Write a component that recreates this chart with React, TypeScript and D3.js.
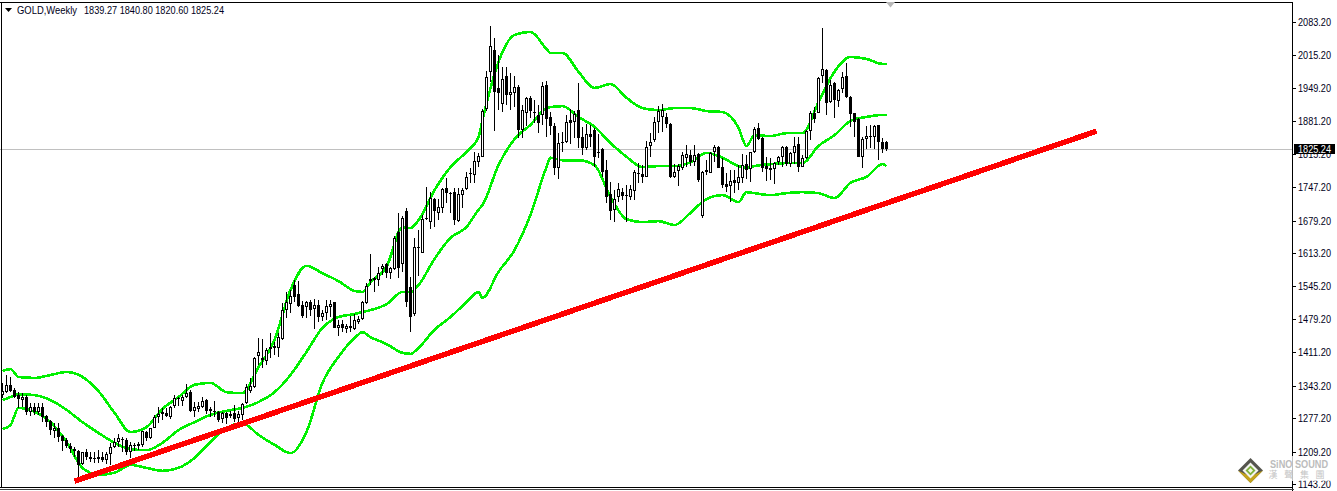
import * as d3 from "d3";

const symbol = "GOLD,Weekly";
const lastBar = "1839.27 1840.80 1820.60 1825.24";
const lastClose = 1825.24;

const priceTicks = [2083.2, 2015.2, 1949.2, 1881.2, 1815.2, 1747.2, 1679.2, 1613.2, 1545.2, 1479.2, 1411.2, 1343.2, 1277.2, 1209.2, 1143.2];

// weekly bars, one entry per week
const opens = [
  1324, 1330, 1345, 1334, 1324, 1314, 1320, 1290, 1300, 1290,
  1300, 1282, 1271, 1251, 1257, 1241, 1233, 1221, 1214, 1210,
  1184, 1208, 1198, 1196, 1194, 1198, 1192, 1204, 1218, 1229,
  1235, 1233, 1208, 1223, 1225, 1223, 1249, 1237, 1257, 1280,
  1290, 1288, 1280, 1302, 1318, 1312, 1320, 1330, 1292, 1296,
  1300, 1314, 1296, 1292, 1290, 1275, 1288, 1286, 1288, 1278,
  1284, 1308, 1332, 1340, 1404, 1400, 1394, 1418, 1424, 1420,
  1438, 1497, 1509, 1548, 1530, 1507, 1503, 1513, 1499, 1507,
  1483, 1491, 1503, 1513, 1461, 1469, 1459, 1465, 1459, 1473,
  1479, 1511, 1560, 1562, 1558, 1581, 1591, 1572, 1581, 1656,
  1591, 1699, 1544, 1489, 1625, 1613, 1684, 1676, 1723, 1695,
  1705, 1745, 1735, 1737, 1678, 1731, 1743, 1776, 1772, 1798,
  1809, 1906, 1982, 2026, 1949, 1916, 1973, 1935, 1939, 1951,
  1863, 1898, 1929, 1900, 1894, 1894, 1955, 1890, 1872, 1786,
  1839, 1839, 1884, 1880, 1904, 1849, 1827, 1855, 1863, 1819,
  1825, 1782, 1733, 1701, 1727, 1737, 1731, 1727, 1739, 1776,
  1774, 1768, 1831, 1843, 1880, 1890, 1890, 1876, 1768, 1780,
  1786, 1807, 1813, 1798, 1815, 1688, 1782, 1776, 1819, 1829,
  1788, 1754, 1750, 1762, 1756, 1766, 1794, 1784, 1819, 1868,
  1847, 1790, 1786, 1784, 1798, 1809, 1829, 1794, 1817, 1835,
  1788, 1807, 1861, 1898, 1898, 1973, 1986, 1920, 1959, 1922,
  1947, 1973, 1931, 1898, 1886, 1809, 1845, 1851, 1849, 1874,
  1839, 1839.27,
];
const highs = [
  1349, 1365, 1361, 1339, 1330, 1328, 1324, 1308, 1308, 1308,
  1308, 1284, 1273, 1267, 1267, 1243, 1237, 1227, 1218, 1212,
  1208, 1214, 1208, 1208, 1212, 1208, 1208, 1227, 1237, 1245,
  1239, 1237, 1229, 1227, 1229, 1251, 1251, 1257, 1284, 1300,
  1298, 1298, 1302, 1324, 1320, 1324, 1347, 1334, 1310, 1310,
  1320, 1316, 1300, 1312, 1292, 1290, 1290, 1292, 1304, 1292,
  1308, 1347, 1359, 1402, 1440, 1438, 1420, 1450, 1432, 1450,
  1511, 1534, 1538, 1558, 1556, 1516, 1516, 1518, 1520, 1518,
  1497, 1518, 1518, 1513, 1477, 1477, 1469, 1485, 1489, 1485,
  1516, 1552, 1611, 1564, 1585, 1591, 1593, 1585, 1648, 1695,
  1688, 1705, 1564, 1644, 1660, 1691, 1748, 1737, 1725, 1723,
  1745, 1766, 1737, 1745, 1745, 1745, 1778, 1786, 1819, 1817,
  1906, 1984, 2075, 2051, 2016, 1992, 1992, 1979, 1973, 1955,
  1914, 1931, 1933, 1924, 1914, 1961, 1963, 1900, 1878, 1857,
  1859, 1894, 1906, 1902, 1959, 1870, 1876, 1874, 1868, 1855,
  1827, 1802, 1758, 1741, 1756, 1745, 1752, 1752, 1782, 1796,
  1792, 1841, 1857, 1890, 1912, 1916, 1898, 1878, 1794, 1794,
  1819, 1833, 1823, 1833, 1817, 1780, 1802, 1819, 1833, 1831,
  1807, 1776, 1782, 1782, 1792, 1815, 1813, 1819, 1870, 1878,
  1849, 1809, 1807, 1798, 1811, 1831, 1831, 1819, 1849, 1849,
  1813, 1863, 1902, 1910, 1971, 2071, 1988, 1965, 1961, 1947,
  1982, 2000, 1933, 1898, 1888, 1849, 1872, 1874, 1874, 1874,
  1847, 1840.8,
];
const lows = [
  1318, 1328, 1330, 1318, 1298, 1300, 1284, 1282, 1284, 1284,
  1269, 1259, 1243, 1237, 1229, 1210, 1216, 1206, 1198, 1157,
  1182, 1192, 1188, 1186, 1186, 1188, 1184, 1182, 1216, 1218,
  1208, 1202, 1196, 1210, 1212, 1218, 1231, 1235, 1257, 1267,
  1273, 1280, 1275, 1298, 1302, 1302, 1318, 1290, 1280, 1290,
  1298, 1286, 1280, 1280, 1269, 1267, 1265, 1278, 1269, 1269,
  1273, 1306, 1328, 1338, 1385, 1379, 1385, 1400, 1406, 1402,
  1436, 1481, 1491, 1513, 1503, 1481, 1481, 1485, 1459, 1473,
  1475, 1477, 1483, 1461, 1444, 1452, 1450, 1452, 1457, 1469,
  1477, 1509, 1548, 1534, 1546, 1568, 1562, 1560, 1579, 1562,
  1575, 1503, 1452, 1485, 1566, 1613, 1680, 1662, 1666, 1680,
  1695, 1715, 1695, 1670, 1676, 1705, 1741, 1756, 1756, 1788,
  1809, 1902, 1961, 1861, 1904, 1900, 1914, 1904, 1910, 1847,
  1847, 1872, 1888, 1878, 1857, 1874, 1849, 1853, 1772, 1764,
  1819, 1837, 1835, 1847, 1827, 1813, 1823, 1829, 1788, 1807,
  1768, 1715, 1680, 1676, 1717, 1721, 1676, 1721, 1721, 1756,
  1756, 1768, 1809, 1839, 1857, 1859, 1868, 1766, 1766, 1750,
  1782, 1788, 1790, 1790, 1758, 1684, 1772, 1776, 1798, 1786,
  1745, 1737, 1717, 1735, 1741, 1756, 1764, 1758, 1817, 1843,
  1778, 1760, 1762, 1754, 1792, 1788, 1790, 1788, 1794, 1778,
  1788, 1805, 1843, 1878, 1898, 1959, 1894, 1918, 1888, 1910,
  1939, 1929, 1870, 1849, 1809, 1786, 1825, 1827, 1825, 1802,
  1817, 1820.6,
];
const closes = [
  1332, 1345, 1332, 1320, 1316, 1320, 1290, 1300, 1290, 1300,
  1280, 1269, 1253, 1257, 1239, 1231, 1221, 1214, 1210, 1182,
  1208, 1198, 1194, 1194, 1198, 1192, 1204, 1218, 1229, 1237,
  1233, 1208, 1223, 1221, 1221, 1251, 1237, 1257, 1280, 1286,
  1286, 1282, 1300, 1318, 1316, 1320, 1328, 1292, 1300, 1302,
  1312, 1292, 1292, 1290, 1273, 1288, 1278, 1282, 1275, 1286,
  1306, 1340, 1342, 1400, 1412, 1396, 1416, 1422, 1420, 1442,
  1497, 1513, 1526, 1524, 1505, 1485, 1513, 1497, 1507, 1483,
  1491, 1505, 1509, 1461, 1467, 1461, 1465, 1461, 1477, 1479,
  1513, 1546, 1556, 1558, 1572, 1587, 1572, 1583, 1644, 1583,
  1684, 1513, 1483, 1625, 1623, 1682, 1682, 1725, 1699, 1707,
  1743, 1735, 1733, 1680, 1733, 1741, 1768, 1774, 1800, 1811,
  1902, 1971, 2034, 1941, 1939, 1967, 1935, 1941, 1951, 1863,
  1904, 1929, 1902, 1898, 1878, 1953, 1886, 1872, 1786, 1837,
  1837, 1880, 1878, 1896, 1847, 1827, 1855, 1849, 1809, 1817,
  1778, 1727, 1699, 1723, 1743, 1729, 1729, 1743, 1778, 1774,
  1768, 1829, 1839, 1880, 1902, 1904, 1876, 1768, 1778, 1790,
  1813, 1815, 1798, 1813, 1762, 1778, 1778, 1817, 1829, 1786,
  1752, 1748, 1760, 1756, 1768, 1792, 1782, 1819, 1865, 1845,
  1786, 1784, 1782, 1796, 1809, 1829, 1794, 1817, 1831, 1788,
  1807, 1861, 1898, 1886, 1969, 1988, 1918, 1955, 1924, 1945,
  1971, 1931, 1896, 1880, 1809, 1845, 1851, 1849, 1872, 1839,
  1825, 1825.24,
];

// band readings, taken every few weeks
const bandWeeks = [
  0, 2, 4, 8, 12, 16, 20, 24, 28, 32, 36, 40, 44, 48, 52, 56, 60, 64, 68, 72, 76, 80, 84, 88, 90, 92, 96, 100, 102, 104,
  108, 112, 116, 119, 120, 124, 128, 132, 136, 137, 140, 144, 148, 152, 156, 160, 164, 168, 172, 176, 180, 184, 186, 188,
  192, 196, 200, 204, 208, 212, 216, 220, 221,
];
const upperBand = [
  1373, 1377, 1361, 1359, 1365, 1371, 1361, 1332, 1288, 1249, 1259, 1296, 1320, 1345, 1349, 1330, 1328, 1381, 1436, 1538,
  1587, 1572, 1556, 1536, 1534, 1554, 1585, 1666, 1664, 1680, 1741, 1788, 1819, 1849, 1884, 2002, 2057, 2063, 2028, 2020,
  2020, 1982, 1949, 1957, 1929, 1908, 1904, 1908, 1908, 1902, 1900, 1868, 1831, 1853, 1851, 1857, 1857, 1920, 1982, 2012,
  2008, 1998, 1998,
];
const middleBand = [
  1314, 1320, 1326, 1324, 1314, 1294, 1269, 1247, 1227, 1214, 1212, 1227, 1253, 1269, 1284, 1292, 1298, 1310, 1330, 1365,
  1412, 1461, 1483, 1489, 1493, 1497, 1509, 1534, 1534, 1548, 1601, 1644, 1666, 1701, 1711, 1792, 1845, 1874, 1908, 1910,
  1912, 1890, 1870, 1837, 1809, 1788, 1790, 1790, 1798, 1817, 1807, 1790, 1786, 1790, 1794, 1796, 1796, 1831, 1853, 1882,
  1890, 1894, 1894,
];
const lowerBand = [
  1255, 1263, 1298, 1290, 1269, 1229, 1176, 1162, 1166, 1182, 1176, 1170, 1176, 1196, 1229, 1257, 1267, 1243, 1223, 1206,
  1249, 1349, 1402, 1440, 1452, 1442, 1428, 1410, 1408, 1420, 1457, 1483, 1513, 1534, 1522, 1575, 1619, 1691, 1788, 1807,
  1802, 1802, 1792, 1727, 1682, 1676, 1678, 1670, 1695, 1723, 1731, 1717, 1737, 1735, 1731, 1735, 1737, 1735, 1725, 1756,
  1768, 1794, 1790,
];

const trendWeeks = [18, 273.5];
const trendPrices = [1149, 1861];

const x = d3.scaleLinear().domain([0, 221]).range([2.5, 886.5]);
const y = d3.scaleLinear().domain([1143.2, 2083.2]).range([484, 22]);

const font = "'Liberation Sans', Arial, sans-serif";
const textColor = "#000020";

function bandPath(values: number[]) {
  const line = d3
    .line<number>()
    .x((_, i) => x(bandWeeks[i]))
    .y((d) => y(d))
    .curve(d3.curveMonotoneX);
  return line(values) ?? "";
}

function Candle({ week }: { week: number }) {
  const o = opens[week];
  const c = closes[week];
  const cx = x(week);
  const top = Math.round(y(Math.max(o, c)));
  const bottom = Math.max(Math.round(y(Math.min(o, c))), top + 1);
  const wickTop = Math.round(y(highs[week]));
  const wickBottom = Math.round(y(lows[week]));
  return (
    <g>
      <rect x={cx - 0.5} y={wickTop} width={1} height={Math.max(wickBottom - wickTop, 1)} fill="#000" />
      <rect x={cx - 1.5} y={top} width={3} height={bottom - top} fill="#000" />
      {c > o && bottom - top > 2 && <rect x={cx - 0.5} y={top + 1} width={1} height={bottom - top - 2} fill="#fff" />}
    </g>
  );
}

function Logo() {
  const cx = 1250.5;
  const cy = 470.5;
  const diamond = (r: number) => `${cx},${cy - r} ${cx + r},${cy} ${cx},${cy + r} ${cx - r},${cy}`;
  return (
    <g>
      <rect x={1268} y={456} width={62} height={25} fill="#fff" opacity={0.75} />
      <polygon points={diamond(12.5)} fill="#55554e" />
      <polygon points={`${cx - 12.5},${cy} ${cx},${cy + 12.5} ${cx + 12.5},${cy} ${cx},${cy + 6}`} fill="#c4a41c" />
      <polygon points={diamond(8)} fill="#f4f4f0" />
      <polygon points={diamond(5)} fill="#7fb23a" />
      <polygon points={diamond(2.5)} fill="#f2f6e6" />
      <text
        x={1270}
        y={468}
        fontFamily={font}
        fontSize={11.5}
        fontWeight={700}
        fill="#bcbcbc"
        textLength={58}
        lengthAdjust="spacingAndGlyphs"
      >
        SiNO SOUND
      </text>
      {["漢", "聲", "集", "團"].map((ch, i) => (
        <text
          key={ch}
          x={1273 + i * 15.7}
          y={478}
          textAnchor="middle"
          fontFamily="'Noto Sans CJK TC', sans-serif"
          fontSize={9}
          fill="#c4c4c4"
        >
          {ch}
        </text>
      ))}
    </g>
  );
}

export default function App() {
  const axisX = 1292.5;
  const closeY = Math.round(y(lastClose)) + 0.5;
  const trend = d3
    .line<number>()
    .x((_, i) => x(trendWeeks[i]))
    .y((d) => y(d));

  return (
    <svg
      width={1337}
      height={491}
      viewBox="0 0 1337 491"
      style={{ position: "absolute", left: 0, top: 0, display: "block", background: "#fff" }}
    >
      <line x1={0} x2={axisX} y1={closeY} y2={closeY} stroke="#c0c0c0" shapeRendering="crispEdges" />

      {[upperBand, middleBand, lowerBand].map((band, i) => (
        <path key={i} d={bandPath(band)} fill="none" stroke="#00f000" strokeWidth={2.6} shapeRendering="crispEdges" />
      ))}

      <g shapeRendering="crispEdges">
        {opens.map((_, week) => (
          <Candle key={week} week={week} />
        ))}
      </g>

      <path d={trend(trendPrices) ?? ""} fill="none" stroke="#ff0000" strokeWidth={5.5} shapeRendering="crispEdges" />

      {/* frame */}
      <g stroke="#000" shapeRendering="crispEdges">
        <line x1={0} x2={axisX} y1={2.5} y2={2.5} />
        <line x1={1.5} x2={1.5} y1={2} y2={487} />
        <line x1={axisX} x2={axisX} y1={2} y2={491} />
        <line x1={0} x2={axisX} y1={487.5} y2={487.5} />
        <line x1={0} x2={axisX + 1} y1={489.5} y2={489.5} stroke="#444" />
      </g>

      {/* price axis */}
      {priceTicks.map((t) => (
        <g key={t} transform={`translate(0,${Math.round(y(t)) + 0.5})`}>
          <line x1={axisX} x2={axisX + 3} stroke="#000" shapeRendering="crispEdges" />
          <text x={1298} y={3.5} fontFamily={font} fontSize={11} fill={textColor} textLength={33} lengthAdjust="spacingAndGlyphs">
            {t.toFixed(2)}
          </text>
        </g>
      ))}

      <rect x={1294} y={144} width={41} height={10} fill="#000" />
      <text x={1298} y={153} fontFamily={font} fontSize={11} fill="#fff" textLength={33} lengthAdjust="spacingAndGlyphs">
        {lastClose.toFixed(2)}
      </text>

      {/* header */}
      <polygon points="5,8 12,8 8.5,12" fill="#000" />
      <text x={17} y={14} fontFamily={font} fontSize={11} fill={textColor} textLength={60} lengthAdjust="spacingAndGlyphs">
        {symbol}
      </text>
      <text x={84} y={14} fontFamily={font} fontSize={11} fill={textColor} textLength={140} lengthAdjust="spacingAndGlyphs">
        {lastBar}
      </text>

      <polygon points="886,2 895,2 890.5,7.5" fill="#b8b8b8" />

      <Logo />
    </svg>
  );
}
